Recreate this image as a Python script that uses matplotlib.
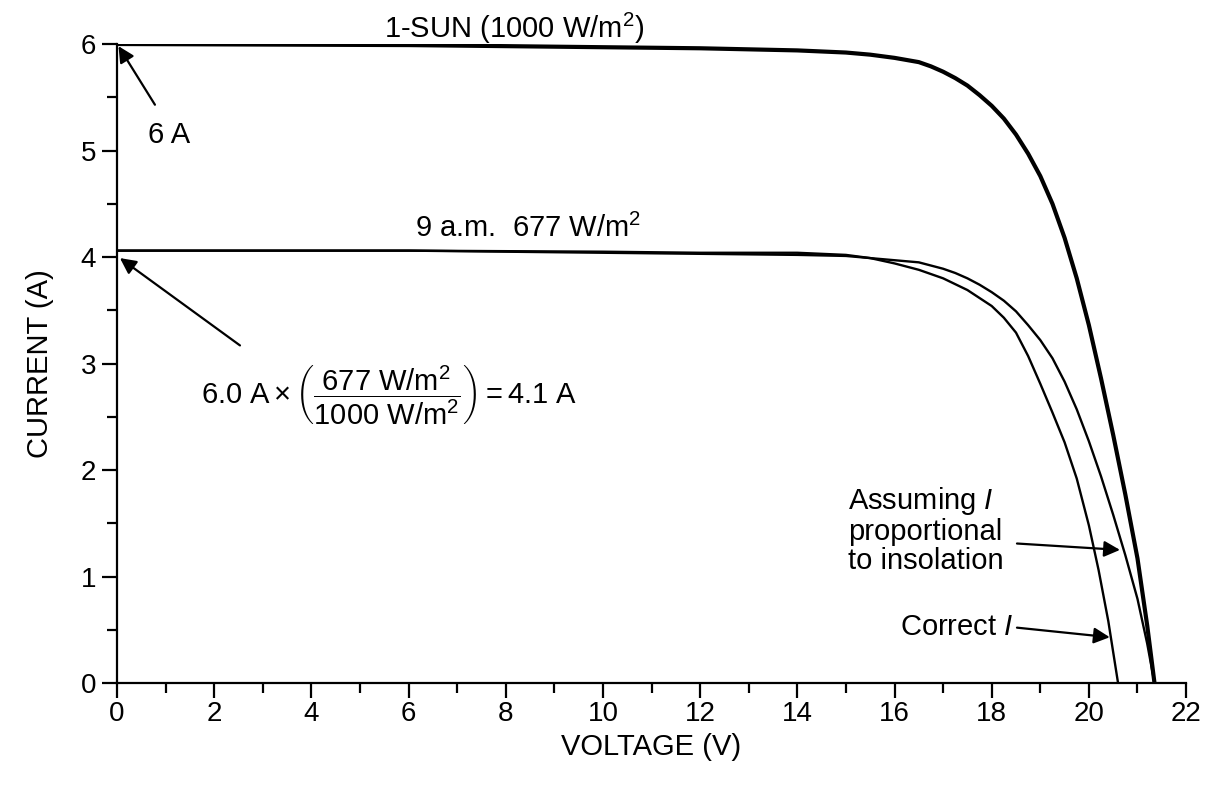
import matplotlib
matplotlib.use("Agg")
import matplotlib.pyplot as plt
from matplotlib.ticker import MultipleLocator

plt.rcParams['font.family'] = ['Liberation Sans', 'DejaVu Sans']
plt.rcParams['mathtext.fontset'] = 'custom'
plt.rcParams['mathtext.rm'] = 'Liberation Sans'
plt.rcParams['mathtext.it'] = 'Liberation Sans:italic'

# values
v_sun = [0, 6, 10, 12, 14, 15, 15.5, 16, 16.5, 16.75, 17, 17.25, 17.5, 17.75, 18, 18.25, 18.5, 18.75, 19,
         19.25, 19.5, 19.75, 20, 20.25, 20.5, 20.75, 21, 21.2, 21.35]
i_sun = [6.0, 5.99, 5.97, 5.96, 5.94, 5.92, 5.90, 5.87, 5.83, 5.79, 5.74, 5.68, 5.61, 5.52, 5.42, 5.30, 5.15,
         4.97, 4.76, 4.50, 4.18, 3.80, 3.36, 2.86, 2.33, 1.77, 1.17, 0.54, 0]

v_prop = [0, 6, 10, 12, 14, 15, 15.5, 16, 16.5, 16.75, 17, 17.25, 17.5, 17.75, 18, 18.25, 18.5, 18.75, 19,
          19.25, 19.5, 19.75, 20, 20.25, 20.5, 20.75, 21, 21.2, 21.35]
i_prop = [4.06, 4.06, 4.04, 4.03, 4.02, 4.01, 3.99, 3.97, 3.95, 3.92, 3.89, 3.85, 3.80, 3.74, 3.67, 3.59, 3.49,
          3.36, 3.22, 3.05, 2.83, 2.57, 2.27, 1.94, 1.58, 1.20, 0.79, 0.37, 0]

v_correct = [0, 6, 10, 12, 14, 14.5, 15, 15.5, 16, 16.5, 17, 17.5, 18, 18.25, 18.5, 18.75, 19,
             19.25, 19.5, 19.75, 20, 20.2, 20.4, 20.6]
i_correct = [4.06, 4.06, 4.05, 4.04, 4.04, 4.03, 4.02, 3.99, 3.94, 3.88, 3.80, 3.69, 3.54, 3.43, 3.29, 3.07, 2.81,
             2.54, 2.26, 1.92, 1.48, 1.06, 0.58, 0]

fs = 21

fig = plt.figure(figsize=(12.14, 7.86), dpi=100)
ax = fig.add_axes([0.0964, 0.131, 0.8806, 0.813])

ax.plot(v_sun, i_sun, color='black', lw=3.0, solid_joinstyle='round')
ax.plot(v_prop, i_prop, color='black', lw=1.7, solid_joinstyle='round')
ax.plot(v_correct, i_correct, color='black', lw=1.7, solid_joinstyle='round')

ax.set_xlim(0, 22)
ax.set_ylim(0, 6)
ax.spines['top'].set_visible(False)
ax.spines['right'].set_visible(False)
ax.spines['left'].set_linewidth(1.6)
ax.spines['bottom'].set_linewidth(1.6)

ax.xaxis.set_major_locator(MultipleLocator(2))
ax.xaxis.set_minor_locator(MultipleLocator(1))
ax.yaxis.set_major_locator(MultipleLocator(1))
ax.yaxis.set_minor_locator(MultipleLocator(0.5))
ax.tick_params(which='major', length=11, width=1.6, labelsize=20, pad=4)
ax.tick_params(axis='x', which='major', pad=2)
ax.tick_params(which='minor', length=7, width=1.6)

ax.set_xlabel('VOLTAGE (V)', fontsize=fs, labelpad=4)
ax.set_ylabel('CURRENT (A)', fontsize=fs, labelpad=19)

ax.text(8.17, 6.15, r'1-SUN (1000 W/m$^2$)', fontsize=fs, ha='center', va='center', clip_on=False)
ax.text(8.45, 4.27, r'9 a.m.  677 W/m$^2$', fontsize=fs, ha='center', va='center')

arrow = dict(arrowstyle='-|>', color='black', lw=1.6, mutation_scale=24, shrinkA=0, shrinkB=0)

ax.annotate('', xy=(0.03, 5.98), xytext=(0.78, 5.43), arrowprops=arrow, annotation_clip=False)
ax.text(0.64, 5.15, '6 A', fontsize=fs, ha='left', va='center')

ax.annotate('', xy=(0.06, 3.99), xytext=(2.53, 3.17), arrowprops=arrow)
ax.text(1.72, 2.70,
        r'$6.0\ \mathrm{A} \times \left(\dfrac{677\ \mathrm{W/m^2}}{1000\ \mathrm{W/m^2}}\right) = 4.1\ \mathrm{A}$',
        fontsize=fs, ha='left', va='center')

ax.text(15.04, 1.44, 'Assuming $\\mathit{I}$\nproportional\nto insolation', fontsize=fs,
        ha='left', va='center', linespacing=1.05)
ax.annotate('', xy=(20.64, 1.25), xytext=(18.52, 1.31), arrowprops=arrow)

ax.text(18.44, 0.53, 'Correct $\\mathit{I}$', fontsize=fs, ha='right', va='center')
ax.annotate('', xy=(20.43, 0.43), xytext=(18.52, 0.52), arrowprops=arrow)

fig.savefig('out.png', dpi=100)
